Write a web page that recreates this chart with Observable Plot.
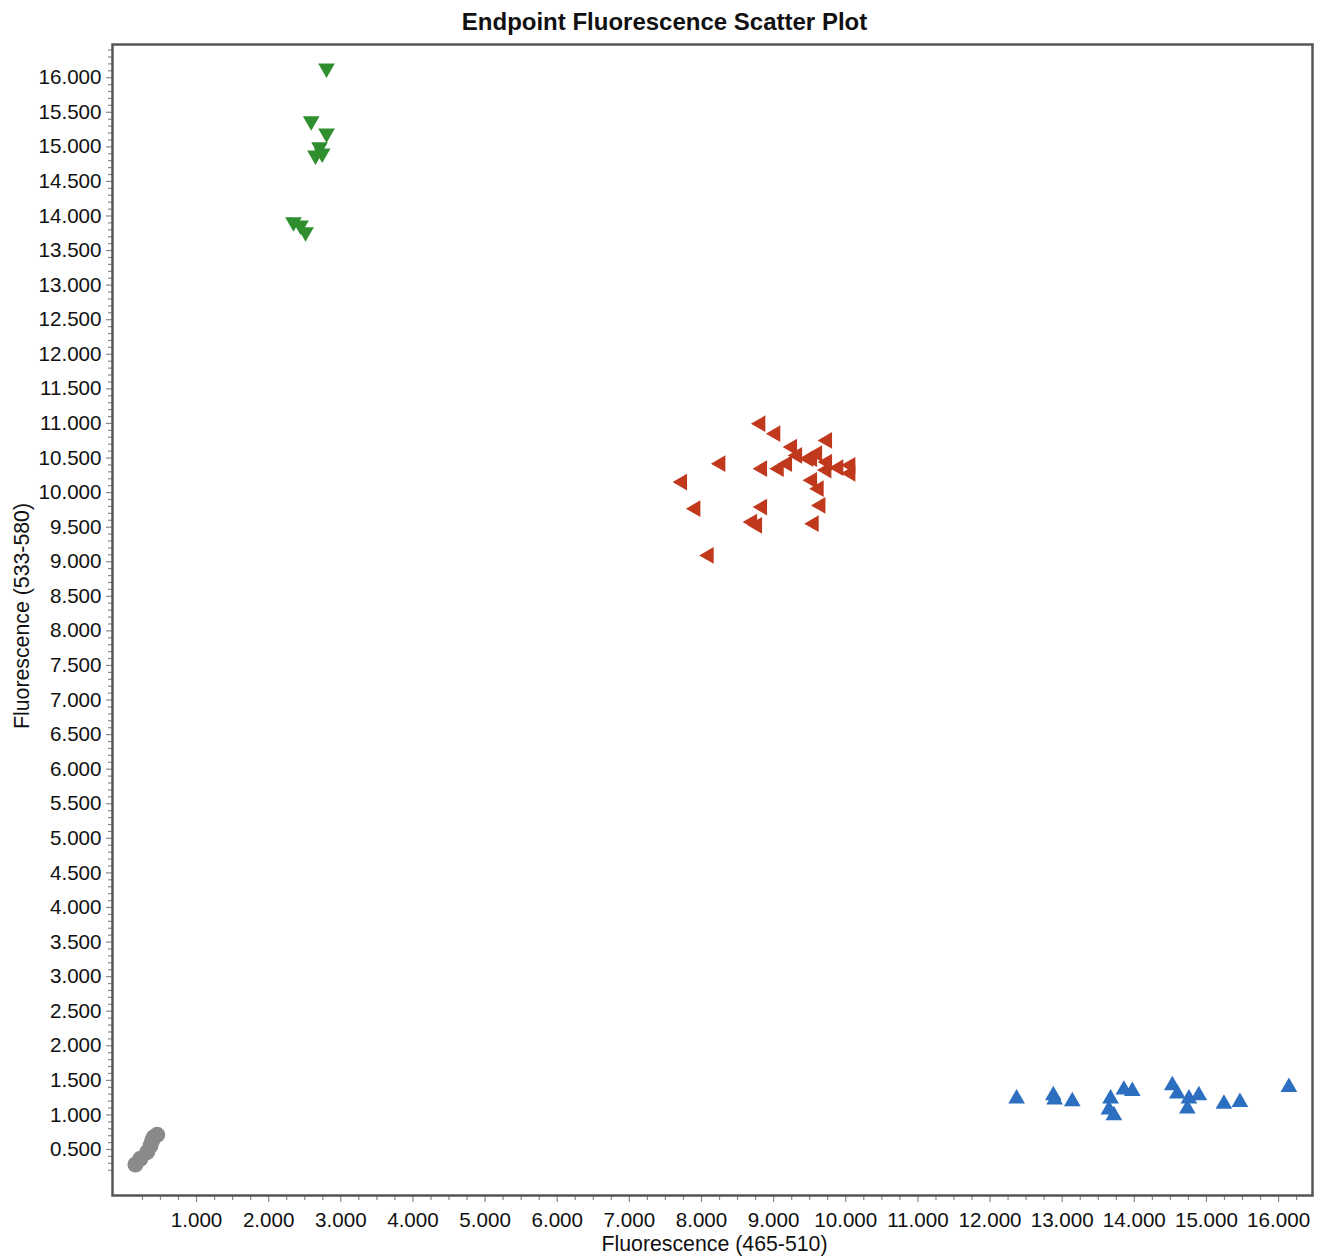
<!DOCTYPE html>
<html>
<head>
<meta charset="utf-8">
<script src="https://cdn.jsdelivr.net/npm/d3@7"></script>
<script src="https://cdn.jsdelivr.net/npm/@observablehq/plot@0.6"></script>
<style>
  html, body { margin: 0; padding: 0; background: #fff; }
  #chart svg { display: block; }
</style>
</head>
<body>
<div id="chart"></div>
<script>
// Gray cluster (circles)
const grayX = [153, 222, 316, 362, 385, 408, 455];
const grayY = [283, 366, 461, 558, 631, 678, 713];

// Green cluster (down triangles)
const greenX = [2802, 2590, 2802, 2705, 2649, 2742, 2344, 2441, 2511];
const greenY = [16135, 15373, 15194, 14997, 14877, 14906, 13912, 13865, 13768];

// Red cluster (left triangles)
const redX = [8818, 9026, 9743, 9258, 9328, 9605, 9535, 9743, 9189, 9073, 8842, 8264, 10066, 10066,
              7733, 9535, 9627, 9651, 8842, 7918, 8704, 8773, 9558, 8102, 9899, 9734, 9484];
const redY = [10996, 10852, 10755, 10658, 10538, 10563, 10490, 10441, 10418, 10346, 10346, 10418, 10394, 10278,
              10152, 10177, 10057, 9815, 9791, 9767, 9573, 9526, 9550, 9092, 10360, 10326, 10490];

// Blue cluster (up triangles)
const blueX = [12368, 12877, 12895, 13140, 13671, 13648, 13717, 13855, 13972, 14527, 14596, 14757, 14735, 14895, 15242, 15464, 16143];
const blueY = [1234, 1281, 1219, 1195, 1234, 1075, 992, 1364, 1344, 1426, 1306, 1234, 1089, 1281, 1161, 1185, 1402];

// Axis ticks
const xTicks = [1000, 2000, 3000, 4000, 5000, 6000, 7000, 8000, 9000, 10000, 11000, 12000, 13000, 14000, 15000, 16000];
const yTicks = [500, 1000, 1500, 2000, 2500, 3000, 3500, 4000, 4500, 5000, 5500, 6000, 6500, 7000, 7500, 8000,
                8500, 9000, 9500, 10000, 10500, 11000, 11500, 12000, 12500, 13000, 13500, 14000, 14500, 15000, 15500, 16000];

const title = "Endpoint Fluorescence Scatter Plot";
const xLabel = "Fluorescence (465-510)";
const yLabel = "Fluorescence (533-580)";

const toPts = (xs, ys) => xs.map((x, i) => ({x, y: ys[i]}));
const gray = toPts(grayX, grayY);
const green = toPts(greenX, greenY);
const red = toPts(redX, redY);
const blue = toPts(blueX, blueY);

const xMinor = d3.range(250, 16300, 250).filter(v => v % 1000 !== 0);
const yMinor = d3.range(200, 16450, 100).filter(v => v % 500 !== 0);
const fmt = d => (d / 1000).toFixed(3);

const FONT = "'Liberation Sans', Arial, sans-serif";
const axisColor = "#555";

const chart = Plot.plot({
  width: 1317,
  height: 1257,
  marginTop: 44,
  marginBottom: 62,
  marginLeft: 112,
  marginRight: 5,
  style: {fontFamily: FONT, fontSize: "20.6px", color: "#111", background: "#fff"},
  x: {domain: [-165, 16470]},
  y: {domain: [-165, 16480]},
  marks: [
    Plot.axisX(xMinor, {tickSize: 5, text: null, stroke: "#888", strokeWidth: 1.2, label: null}),
    Plot.axisX(xTicks, {tickSize: 7, tickPadding: 10, tickFormat: fmt, stroke: "#888", strokeWidth: 1.2, label: null, fill: "#111"}),
    Plot.axisY(yMinor, {tickSize: 4, text: null, stroke: "#888", strokeWidth: 1.2, label: null}),
    Plot.axisY(yTicks, {tickSize: 6, tickPadding: 5, tickFormat: fmt, stroke: "#888", strokeWidth: 1.2, label: null, fill: "#111"}),
    Plot.frame({stroke: axisColor, strokeWidth: 2.5}),
    Plot.dot(gray, {x: "x", y: "y", r: 8, fill: "#8a8a8a", stroke: "none"}),
    Plot.dot(green, {x: "x", y: "y", symbol: "triangle", rotate: 180, r: 6.2, fill: "#2f8f2f", stroke: "none"}),
    Plot.dot(red, {x: "x", y: "y", symbol: "triangle", rotate: -90, r: 6.2, fill: "#c1391d", stroke: "none"}),
    Plot.dot(blue, {x: "x", y: "y", symbol: "triangle", rotate: 0, r: 6.2, fill: "#2c6fc0", stroke: "none"}),
    Plot.text([title], {frameAnchor: "top", dy: -22, dx: -48, text: d => d, fontWeight: "bold", fontSize: 24, textAnchor: "middle", lineAnchor: "middle", fill: "#111"}),
    Plot.text([xLabel], {frameAnchor: "bottom", dy: 49, dx: 2, text: d => d, fontSize: 21.3, textAnchor: "middle", lineAnchor: "middle", fill: "#111"}),
    Plot.text([yLabel], {frameAnchor: "left", dx: -90, dy: -4, rotate: -90, text: d => d, fontSize: 21.3, textAnchor: "middle", lineAnchor: "middle", fill: "#111"})
  ]
});
document.getElementById("chart").appendChild(chart);
</script>
</body>
</html>
